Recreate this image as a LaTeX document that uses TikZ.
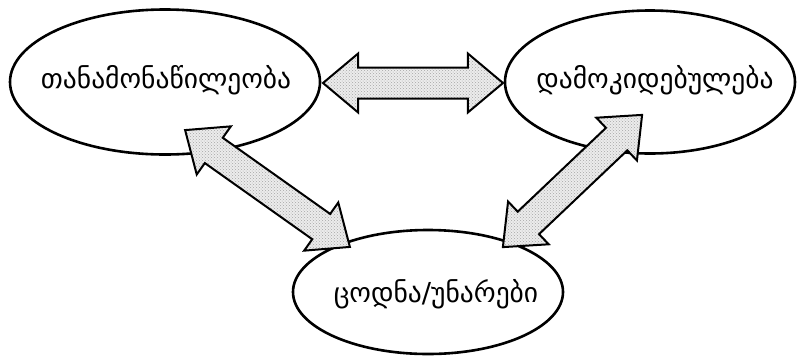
\documentclass[tikz,border=0pt]{standalone}
\usepackage{fontspec}
\newfontfamily\geo{DejaVu Sans}
\usetikzlibrary{shapes.geometric,shapes.arrows,patterns}

\begin{document}
\begin{tikzpicture}[x=1pt, y=-1pt,
	bubble/.style = {draw, ellipse, line width=2.6pt, inner sep=0pt},
	word/.style = {font=\geo\fontsize{27.5}{32}\selectfont, inner sep=0pt},
	link/.style = {double arrow, draw, line width=2pt, inner xsep=0pt,
		inner ysep=14.5pt, double arrow head extend=14pt,
		double arrow tip angle=80, double arrow head indent=0pt,
		preaction={fill=gray!15}, pattern=crosshatch dots,
		pattern color=gray!70, sloped}]
\useasboundingbox (0,0) rectangle (798,357);
% ellipses
\node[bubble, minimum width=310pt, minimum height=145pt] (thana) at (165,82) {};
\node[bubble, minimum width=290pt, minimum height=143pt] (damo) at (650,82) {};
\node[bubble, minimum width=270pt, minimum height=124pt] (codna) at (428,292) {};
\node[word] (thanaT) at (166,80) {თანამონაწილეობა};
\node[word] (damoT) at (655,80) {დამოკიდებულება};
\node[word] (codnaT) at (436,294) {ცოდნა/უნარები};
% arrow ends
\coordinate (h1) at (323,83);
\coordinate (h2) at (503,83);
\coordinate (l1) at (185,130);
\coordinate (l2) at (350,247);
\coordinate (r1) at (503,247);
\coordinate (r2) at (642,115);
% arrows
\path (h1) -- (h2) node[link, midway, minimum height=180pt] (ha) {};
\path (l1) -- (l2) node[link, midway, minimum height=202pt] (la) {};
\path (r1) -- (r2) node[link, midway, minimum height=192pt] (ra) {};
\end{tikzpicture}
\end{document}
